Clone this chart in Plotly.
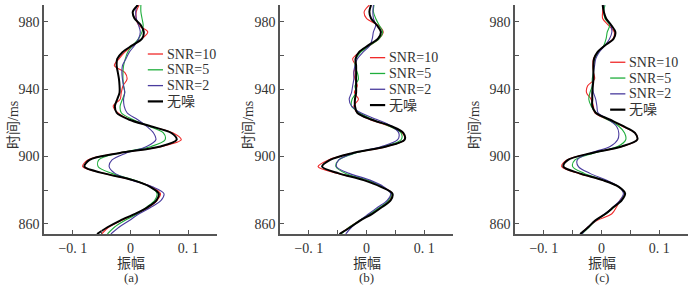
import plotly.graph_objects as go

# ---------------- data ----------------
TIME_MS = [854, 858, 862, 866, 870, 874, 878, 882, 886, 890, 894, 898, 902, 906, 910,
           914, 918, 922, 926, 930, 934, 938, 942, 946, 950, 954, 958, 962, 966, 970,
           974, 978, 982, 986, 990]

SERIES_NAMES = ["SNR=10", "SNR=5", "SNR=2", "无噪"]
PANEL_LABELS = ["(a)", "(b)", "(c)"]

# panel (a)
A_SNR10 = [-0.050, -0.038, -0.016, 0.010, 0.032, 0.046, 0.052, 0.036, 0.004, -0.046, -0.083, -0.074,
           -0.022, 0.055, 0.088, 0.074, 0.034, -0.002, -0.022, -0.030, -0.018, -0.016, -0.013, -0.006,
           -0.010, -0.028, -0.020, -0.010, 0.004, 0.020, 0.030, 0.014, 0.010, 0.010, 0.015]
A_SNR5 = [-0.040, -0.028, -0.010, 0.012, 0.028, 0.042, 0.046, 0.034, 0.006, -0.032, -0.056, -0.055,
          -0.022, 0.036, 0.060, 0.057, 0.032, 0.004, -0.016, -0.018, -0.014, -0.010, -0.012, -0.013,
          -0.013, -0.012, -0.009, -0.005, 0.004, 0.014, 0.020, 0.022, 0.020, 0.018, 0.018]
A_SNR2 = [-0.034, -0.020, -0.002, 0.015, 0.036, 0.053, 0.058, 0.038, 0.002, -0.027, -0.037, -0.032,
          -0.008, 0.028, 0.044, 0.040, 0.028, 0.012, -0.006, -0.011, -0.012, -0.010, -0.012, -0.014,
          -0.015, -0.014, -0.008, -0.002, 0.007, 0.014, 0.017, 0.014, 0.010, 0.009, 0.011]
A_CLEAN = [-0.058, -0.040, -0.018, 0.008, 0.030, 0.045, 0.049, 0.034, 0.004, -0.046, -0.080, -0.071,
           -0.020, 0.052, 0.080, 0.071, 0.035, -0.003, -0.024, -0.027, -0.023, -0.019, -0.019, -0.020,
           -0.022, -0.024, -0.023, -0.014, 0.003, 0.020, 0.023, 0.018, 0.007, 0.004, 0.013]

# panel (b)
B_SNR10 = [-0.046, -0.030, -0.012, 0.008, 0.026, 0.040, 0.045, 0.027, -0.002, -0.050, -0.084, -0.066,
           -0.024, 0.036, 0.066, 0.062, 0.040, 0.006, -0.016, -0.022, -0.014, -0.021, -0.016, -0.020,
           -0.022, -0.019, -0.024, -0.012, 0.006, 0.022, 0.029, 0.020, 0.000, -0.004, 0.005]
B_SNR5 = [-0.044, -0.030, -0.012, 0.006, 0.024, 0.038, 0.043, 0.028, 0.002, -0.036, -0.053, -0.048,
          -0.020, 0.030, 0.060, 0.060, 0.040, 0.010, -0.012, -0.026, -0.025, -0.018, -0.020, -0.014,
          -0.016, -0.020, -0.018, -0.010, 0.006, 0.022, 0.028, 0.022, 0.016, 0.012, 0.013]
B_SNR2 = [-0.036, -0.026, -0.012, 0.004, 0.020, 0.036, 0.042, 0.030, 0.006, -0.030, -0.052, -0.048,
          -0.022, 0.026, 0.054, 0.056, 0.044, 0.018, -0.010, -0.026, -0.030, -0.026, -0.024, -0.022,
          -0.022, -0.020, -0.016, -0.006, 0.006, 0.010, 0.012, 0.016, 0.012, 0.011, 0.012]
B_CLEAN = [-0.047, -0.028, -0.011, 0.010, 0.027, 0.042, 0.045, 0.025, -0.005, -0.048, -0.077, -0.063,
           -0.025, 0.034, 0.066, 0.064, 0.043, 0.008, -0.016, -0.020, -0.020, -0.018, -0.018, -0.018,
           -0.018, -0.018, -0.019, -0.013, 0.003, 0.020, 0.025, 0.018, 0.008, 0.005, 0.008]

# panel (c)
C_SNR10 = [-0.036, -0.024, -0.008, 0.018, 0.026, 0.032, 0.040, 0.030, 0.002, -0.040, -0.069, -0.060,
           -0.018, 0.036, 0.062, 0.058, 0.036, 0.010, -0.012, -0.014, -0.018, -0.026, -0.024, -0.012,
           -0.014, -0.015, -0.014, -0.006, 0.006, 0.020, 0.022, 0.012, 0.002, 0.002, 0.003]
C_SNR5 = [-0.034, -0.022, -0.010, 0.008, 0.022, 0.034, 0.040, 0.030, 0.004, -0.030, -0.050, -0.046,
          -0.014, 0.028, 0.042, 0.040, 0.030, 0.010, -0.010, -0.018, -0.022, -0.020, -0.016, -0.016,
          -0.014, -0.014, -0.012, -0.005, 0.004, 0.008, 0.010, 0.014, 0.006, 0.004, 0.006]
C_SNR2 = [-0.034, -0.024, -0.010, 0.006, 0.020, 0.032, 0.038, 0.030, 0.008, -0.020, -0.040, -0.042,
          -0.020, 0.015, 0.028, 0.030, 0.026, 0.012, -0.006, -0.008, -0.010, -0.014, -0.016, -0.014,
          -0.014, -0.012, -0.010, -0.004, 0.006, 0.014, 0.018, 0.016, 0.008, 0.004, 0.004]
C_CLEAN = [-0.037, -0.023, -0.011, 0.007, 0.021, 0.035, 0.041, 0.030, 0.002, -0.038, -0.066, -0.058,
           -0.018, 0.035, 0.062, 0.058, 0.038, 0.014, -0.010, -0.016, -0.016, -0.016, -0.015, -0.014,
           -0.014, -0.014, -0.013, -0.007, 0.006, 0.021, 0.024, 0.017, 0.008, 0.004, 0.002]

X_TICKVALS = [-0.1, 0, 0.1]
X_TICKTEXT = ["−0. 1", "0", "0. 1"]
Y_TICKVALS = [860, 900, 940, 980]

# ---------------- style ----------------
COLORS = ["#f02a2a", "#1fae3c", "#4a3c9e", "#000000"]
WIDTHS = [1.1, 1.1, 1.1, 2.0]
FONT = "Liberation Serif, Times New Roman, Noto Sans CJK SC, serif"
TXT = "#333333"
AX = "#555555"

PANELS = [
    [A_SNR10, A_SNR5, A_SNR2, A_CLEAN],
    [B_SNR10, B_SNR5, B_SNR2, B_CLEAN],
    [C_SNR10, C_SNR5, C_SNR2, C_CLEAN],
]

W, H = 700, 285
ML, MR, MT, MB = 0, 0, 5, 51
PH = H - MT - MB
DOMAINS_PX = [(44, 217), (280, 453), (515, 688)]
DOMAINS = [(a / W, b / W) for a, b in DOMAINS_PX]
YTITLE_X_PX = [13, 248, 474]
# legend placement (in axis-domain units)
LEG_X0 = [0.60, 0.52, 0.55]
LEG_TOP = [0.786, 0.77, 0.75]
LEG_STEP = 0.069

fig = go.Figure()
shapes = []
annotations = []

for p, series in enumerate(PANELS):
    xa = "x" if p == 0 else f"x{p+1}"
    ya = "y" if p == 0 else f"y{p+1}"
    for s, vals in enumerate(series):
        fig.add_trace(go.Scatter(
            x=vals, y=TIME_MS, mode="lines", name=SERIES_NAMES[s],
            line=dict(color=COLORS[s], width=WIDTHS[s], shape="spline", smoothing=0.9),
            xaxis=xa, yaxis=ya, showlegend=False, hoverinfo="skip"))

    key_x = "xaxis" if p == 0 else f"xaxis{p+1}"
    key_y = "yaxis" if p == 0 else f"yaxis{p+1}"
    fig.update_layout(**{
        key_x: dict(
            domain=list(DOMAINS[p]), anchor=ya, range=[-0.15, 0.15],
            tickvals=X_TICKVALS, ticktext=X_TICKTEXT, ticks="inside", ticklen=4,
            tickcolor=AX, tickwidth=1,
            minor=dict(tickvals=[-0.05, 0.05], ticks="inside", ticklen=4, tickcolor=AX),
            showline=True, linecolor=AX, linewidth=1.6, showgrid=False, zeroline=False,
            tickfont=dict(family=FONT, size=14, color=TXT), fixedrange=True),
        key_y: dict(
            domain=[0, 1], anchor=xa, range=[854, 990],
            tickvals=Y_TICKVALS, ticks="inside", ticklen=4, tickcolor=AX, tickwidth=1,
            minor=dict(tickvals=[880, 920, 960], ticks="inside", ticklen=4, tickcolor=AX),
            showline=True, linecolor=AX, linewidth=1.6, showgrid=False, zeroline=False,
            tickfont=dict(family=FONT, size=14, color=TXT), fixedrange=True),
    })

    # legend drawn inside each panel
    xd = f"{xa} domain"
    yd = f"{ya} domain"
    for s in range(4):
        yy = LEG_TOP[p] - s * LEG_STEP
        shapes.append(dict(type="line", xref=xd, yref=yd, x0=LEG_X0[p], x1=LEG_X0[p] + 0.088,
                           y0=yy, y1=yy, line=dict(color=COLORS[s], width=WIDTHS[s] + 0.2)))
        annotations.append(dict(xref=xd, yref=yd, x=LEG_X0[p] + 0.10, y=yy, text=SERIES_NAMES[s],
                                showarrow=False, xanchor="left", yanchor="middle",
                                font=dict(family=FONT, size=14, color=TXT)))

    cx = (DOMAINS[p][0] + DOMAINS[p][1]) / 2
    annotations.append(dict(xref="paper", yref="paper", x=cx, y=(PH + MT - 263) / PH,
                            text="振幅", showarrow=False, xanchor="center", yanchor="middle",
                            font=dict(family=FONT, size=14, color=TXT)))
    annotations.append(dict(xref="paper", yref="paper", x=cx, y=(PH + MT - 277) / PH,
                            text=PANEL_LABELS[p], showarrow=False, xanchor="center", yanchor="middle",
                            font=dict(family=FONT, size=13, color=TXT)))
    annotations.append(dict(xref="paper", yref="paper", x=YTITLE_X_PX[p] / W, y=(PH + MT - 125) / PH,
                            text="时间/ms", textangle=-90, showarrow=False,
                            xanchor="center", yanchor="middle",
                            font=dict(family=FONT, size=14, color=TXT)))

fig.update_layout(
    width=W, height=H, margin=dict(l=ML, r=MR, t=MT, b=MB),
    paper_bgcolor="white", plot_bgcolor="white",
    shapes=shapes, annotations=annotations, showlegend=False,
)

fig.write_html("out.html", config={"displayModeBar": False},
               post_script="document.body.style.margin='0';")
